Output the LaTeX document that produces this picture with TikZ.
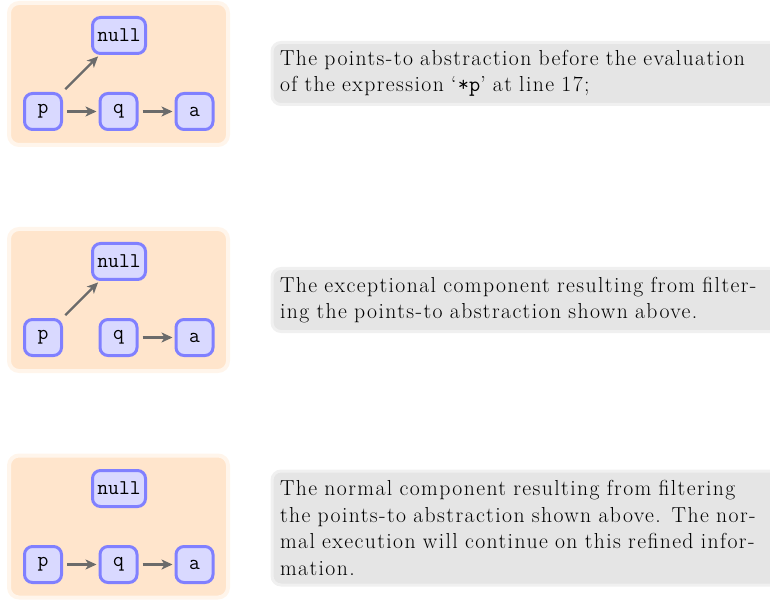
\documentclass[tikz,border=0pt]{standalone}
\usepackage{fontspec}
\setmainfont{Latin Modern Roman}[LetterSpace=6.5]
\usetikzlibrary{arrows.meta}
\begin{document}
\begin{tikzpicture}[x=1pt,y=-1pt,
  panel/.style={draw=orange!8,fill=orange!20,line width=4pt,rounded corners=10pt},
  var/.style={draw=blue!50,fill=blue!15,line width=3pt,rounded corners=8pt,
    minimum height=36pt,minimum width=37pt,inner sep=2pt,
    font=\fontsize{21}{25}\ttfamily},
  arr/.style={draw=black!58,line width=2.4pt,-{Stealth[length=11pt,width=10pt,inset=3pt]},
    shorten <=4pt,shorten >=2pt},
  textbox/.style={draw=black!6,fill=black!10,line width=3pt,rounded corners=9pt,
    anchor=west,align=left,text width=520pt,inner xsep=8pt,
    font=\fontsize{21.7}{26.5}\selectfont}]
\useasboundingbox (0,0) rectangle (770,601);
% panel 1
\begin{scope}[yshift=0pt]
\path[panel] (9,3) rectangle (228,145);
\node[var,minimum width=53pt] (n1) at (119,35.5) {null};
\node[var] (p1) at (43,111.5) {p};
\node[var] (q1) at (118.5,111.5) {q};
\node[var] (a1) at (194.5,111.5) {a};
\draw[arr] (p1) -- (n1);
\draw[arr] (p1) -- (q1);
\draw[arr] (q1) -- (a1);
\node[textbox,minimum height=62pt] (t1) at (270.5,73.5)
 {The points-to abstraction before the evaluation\\
  of the expression `\texttt{*p}' at line 17;};
\end{scope}
% panel 2
\begin{scope}[yshift=-226pt]
\path[panel] (9,3) rectangle (228,145);
\node[var,minimum width=53pt] (n2) at (119,35.5) {null};
\node[var] (p2) at (43,111.5) {p};
\node[var] (q2) at (118.5,111.5) {q};
\node[var] (a2) at (194.5,111.5) {a};
\draw[arr] (p2) -- (n2);
\draw[arr] (q2) -- (a2);
\node[textbox,minimum height=63pt] (t2) at (270.5,74)
 {The exceptional component resulting from filter-\\
  ing the points-to abstraction shown above.};
\end{scope}
% panel 3
\begin{scope}[yshift=-452.5pt]
\path[panel] (9,3) rectangle (228,145);
\node[var,minimum width=53pt] (n3) at (119,36) {null};
\node[var] (p3) at (43,112) {p};
\node[var] (q3) at (118.5,112) {q};
\node[var] (a3) at (194.5,112) {a};
\draw[arr] (p3) -- (q3);
\draw[arr] (q3) -- (a3);
\node[textbox,minimum height=114pt] (t3) at (270.5,75.5)
 {The normal component resulting from filtering\\
  the points-to abstraction shown above. The nor-\\
  mal execution will continue on this refined infor-\\
  mation.};
\end{scope}
\end{tikzpicture}
\end{document}
